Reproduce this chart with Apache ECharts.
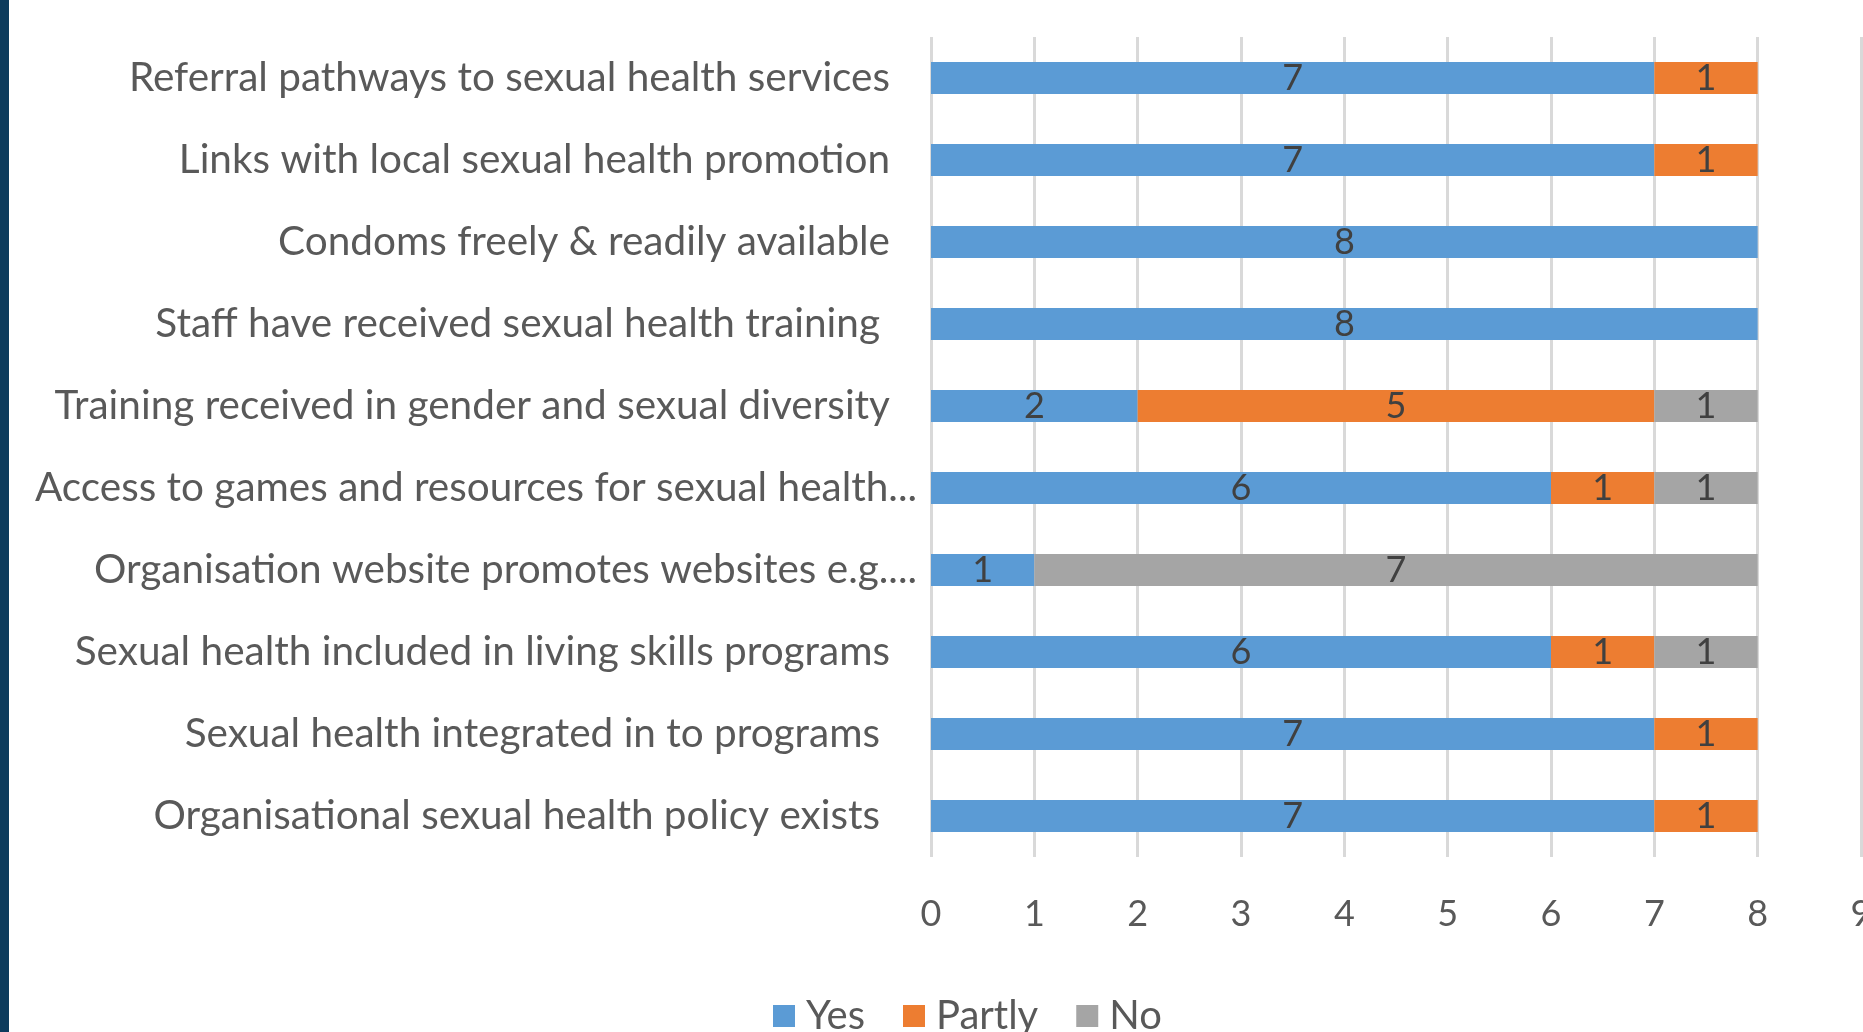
<!DOCTYPE html>
<html>
<head>
<meta charset="utf-8">
<script src="https://cdn.jsdelivr.net/npm/echarts@6/dist/echarts.min.js"></script>
<style>
  html, body { margin: 0; padding: 0; background: #fff; overflow: hidden; }
  #mainChart { width: 1863px; height: 1032px; }
</style>
</head>
<body>
<div id="mainChart"></div>
<script>
// 类别（从上到下），尾部空格/省略号保留原图样式
const categories = [
    'Referral pathways to sexual health services',
    'Links with local sexual health promotion',
    'Condoms freely & readily available',
    'Staff have received sexual health training ',
    'Training received in gender and sexual diversity',
    'Access to games and resources for sexual health...',
    'Organisation website promotes websites e.g....',
    'Sexual health included in living skills programs',
    'Sexual health integrated in to programs ',
    'Organisational sexual health policy exists '
];
const yesValues = [7, 7, 8, 8, 2, 6, 1, 6, 7, 7];
const partlyValues = [1, 1, 0, 0, 5, 1, 0, 1, 1, 1];
const noValues = [0, 0, 0, 0, 1, 1, 7, 1, 0, 0];
const xTicks = [0, 9, 1]; // min, max, interval

const FONT = 'Lato';
const TEXT_COLOR = '#595959';

function makeSeries(name, values, color) {
    return {
        name: name,
        type: 'bar',
        stack: 'total',
        barWidth: 32,
        data: values,
        itemStyle: { color: color },
        label: {
            show: true,
            position: 'inside',
            color: '#404040',
            fontFamily: FONT,
            fontSize: 36,
            formatter: p => (p.value ? p.value : '')
        }
    };
}

const chart = echarts.init(document.getElementById('mainChart'));

chart.setOption({
    animation: false,
    textStyle: { fontFamily: FONT },
    graphic: [{
        type: 'rect',
        left: 0,
        top: 0,
        shape: { width: 9, height: 1032 },
        style: { fill: '#0c3b5d' }
    }],
    legend: {
        data: ['Yes', 'Partly', 'No'],
        left: 768,
        top: 991,
        icon: 'rect',
        itemWidth: 22,
        itemHeight: 22,
        itemGap: 38,
        textStyle: { color: TEXT_COLOR, fontSize: 40, fontFamily: FONT, padding: [0, 0, 0, 6] }
    },
    // v6: 不让坐标轴标签把网格挤小，9 的标签被画布裁掉
    grid: { left: 931, right: 2, top: 37, bottom: 175, containLabel: false, outerBoundsMode: 'none' },
    xAxis: {
        type: 'value',
        min: xTicks[0],
        max: xTicks[1],
        interval: xTicks[2],
        axisLine: { show: false },
        axisTick: { show: false },
        splitLine: { show: true, lineStyle: { color: '#d9d9d9', width: 3 } },
        axisLabel: { color: TEXT_COLOR, fontSize: 36, fontFamily: FONT, margin: 39 }
    },
    yAxis: {
        type: 'category',
        inverse: true,
        data: categories,
        axisLine: { show: false },
        axisTick: { show: false },
        axisLabel: {
            margin: 14,
            formatter: v => {
                if (v.endsWith('...')) return '{t|' + v + '}';
                if (v.endsWith(' ')) return '{s|' + v.trim() + '}';
                return '{n|' + v + '}';
            },
            rich: {
                t: { color: TEXT_COLOR, fontSize: 40.5, fontFamily: FONT },
                n: { color: TEXT_COLOR, fontSize: 40.5, fontFamily: FONT, padding: [0, 27, 0, 0] },
                s: { color: TEXT_COLOR, fontSize: 40.5, fontFamily: FONT, padding: [0, 37, 0, 0] }
            }
        }
    },
    series: [
        makeSeries('Yes', yesValues, '#5b9bd5'),
        makeSeries('Partly', partlyValues, '#ed7d31'),
        makeSeries('No', noValues, '#a5a5a5')
    ]
});
</script>
</body>
</html>
